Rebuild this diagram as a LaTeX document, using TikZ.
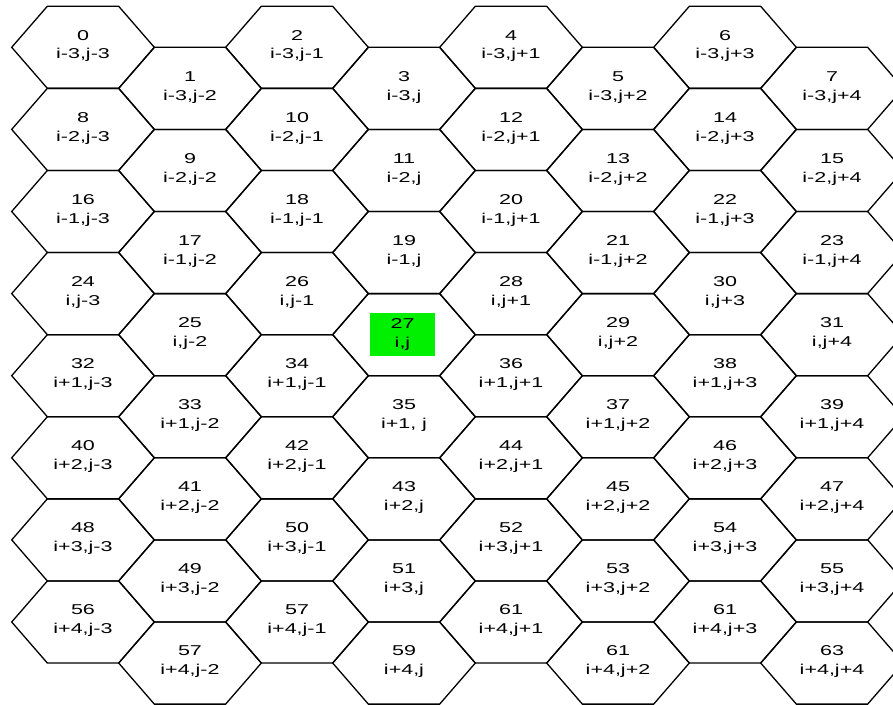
\documentclass[tikz,border=0pt]{standalone}
\usepackage{graphicx}
\usepackage{fontspec}
\setmainfont{Liberation Sans}
\definecolor{cellgreen}{RGB}{0,240,0}
\tikzset{
  hexline/.style={draw=black, line width=1.3pt, line join=miter},
  lbl/.style={inner sep=0pt, font=\fontsize{21.5}{28.3}\selectfont},
  hilite/.style={fill=cellgreen, inner sep=0pt, minimum width=65pt, minimum height=43.5pt, font=\fontsize{21.5}{28.3}\selectfont}
}
\newcommand\lbltext[2]{\scalebox{1}[0.664]{\begin{tabular}{@{}c@{}}#1\\#2\end{tabular}}}
\newcommand\hexoutline[2]{%
  \pgfmathsetmacro\hcx{83+107*#1}%
  \pgfmathsetmacro\hcy{47.3+82.1*#2+41.05*mod(#1,2)}%
  \draw[hexline] (\hcx-71.3,\hcy) -- ++(35.65,-41.05) -- ++(71.3,0) -- ++(35.65,41.05) -- ++(-35.65,41.05) -- ++(-71.3,0) -- cycle;%
}
\newcommand\hexcell[4]{%
  \hexoutline{#1}{#2}%
  \node[lbl] (c#1r#2) at (\hcx,\hcy-1.5) {\lbltext{#3}{#4}};%
}
\begin{document}
\begin{tikzpicture}[x=1pt,y=-1pt]
\useasboundingbox[fill=white] (0,0) rectangle (893,704);
% row 0
\hexcell{0}{0}{0}{i-3,j-3}
\hexcell{1}{0}{1}{i-3,j-2}
\hexcell{2}{0}{2}{i-3,j-1}
\hexcell{3}{0}{3}{i-3,j}
\hexcell{4}{0}{4}{i-3,j+1}
\hexcell{5}{0}{5}{i-3,j+2}
\hexcell{6}{0}{6}{i-3,j+3}
\hexcell{7}{0}{7}{i-3,j+4}
% row 1
\hexcell{0}{1}{8}{i-2,j-3}
\hexcell{1}{1}{9}{i-2,j-2}
\hexcell{2}{1}{10}{i-2,j-1}
\hexcell{3}{1}{11}{i-2,j}
\hexcell{4}{1}{12}{i-2,j+1}
\hexcell{5}{1}{13}{i-2,j+2}
\hexcell{6}{1}{14}{i-2,j+3}
\hexcell{7}{1}{15}{i-2,j+4}
% row 2
\hexcell{0}{2}{16}{i-1,j-3}
\hexcell{1}{2}{17}{i-1,j-2}
\hexcell{2}{2}{18}{i-1,j-1}
\hexcell{3}{2}{19}{i-1,j}
\hexcell{4}{2}{20}{i-1,j+1}
\hexcell{5}{2}{21}{i-1,j+2}
\hexcell{6}{2}{22}{i-1,j+3}
\hexcell{7}{2}{23}{i-1,j+4}
% row 3
\hexcell{0}{3}{24}{i,j-3}
\hexcell{1}{3}{25}{i,j-2}
\hexcell{2}{3}{26}{i,j-1}
\hexoutline{3}{3}
\node[hilite] (c3r3) at (402.5,334.5) {\lbltext{27}{i,j}};
\hexcell{4}{3}{28}{i,j+1}
\hexcell{5}{3}{29}{i,j+2}
\hexcell{6}{3}{30}{i,j+3}
\hexcell{7}{3}{31}{i,j+4}
% row 4
\hexcell{0}{4}{32}{i+1,j-3}
\hexcell{1}{4}{33}{i+1,j-2}
\hexcell{2}{4}{34}{i+1,j-1}
\hexcell{3}{4}{35}{i+1, j}
\hexcell{4}{4}{36}{i+1,j+1}
\hexcell{5}{4}{37}{i+1,j+2}
\hexcell{6}{4}{38}{i+1,j+3}
\hexcell{7}{4}{39}{i+1,j+4}
% row 5
\hexcell{0}{5}{40}{i+2,j-3}
\hexcell{1}{5}{41}{i+2,j-2}
\hexcell{2}{5}{42}{i+2,j-1}
\hexcell{3}{5}{43}{i+2,j}
\hexcell{4}{5}{44}{i+2,j+1}
\hexcell{5}{5}{45}{i+2,j+2}
\hexcell{6}{5}{46}{i+2,j+3}
\hexcell{7}{5}{47}{i+2,j+4}
% row 6
\hexcell{0}{6}{48}{i+3,j-3}
\hexcell{1}{6}{49}{i+3,j-2}
\hexcell{2}{6}{50}{i+3,j-1}
\hexcell{3}{6}{51}{i+3,j}
\hexcell{4}{6}{52}{i+3,j+1}
\hexcell{5}{6}{53}{i+3,j+2}
\hexcell{6}{6}{54}{i+3,j+3}
\hexcell{7}{6}{55}{i+3,j+4}
% row 7
\hexcell{0}{7}{56}{i+4,j-3}
\hexcell{1}{7}{57}{i+4,j-2}
\hexcell{2}{7}{57}{i+4,j-1}
\hexcell{3}{7}{59}{i+4,j}
\hexcell{4}{7}{61}{i+4,j+1}
\hexcell{5}{7}{61}{i+4,j+2}
\hexcell{6}{7}{61}{i+4,j+3}
\hexcell{7}{7}{63}{i+4,j+4}
\end{tikzpicture}
\end{document}
